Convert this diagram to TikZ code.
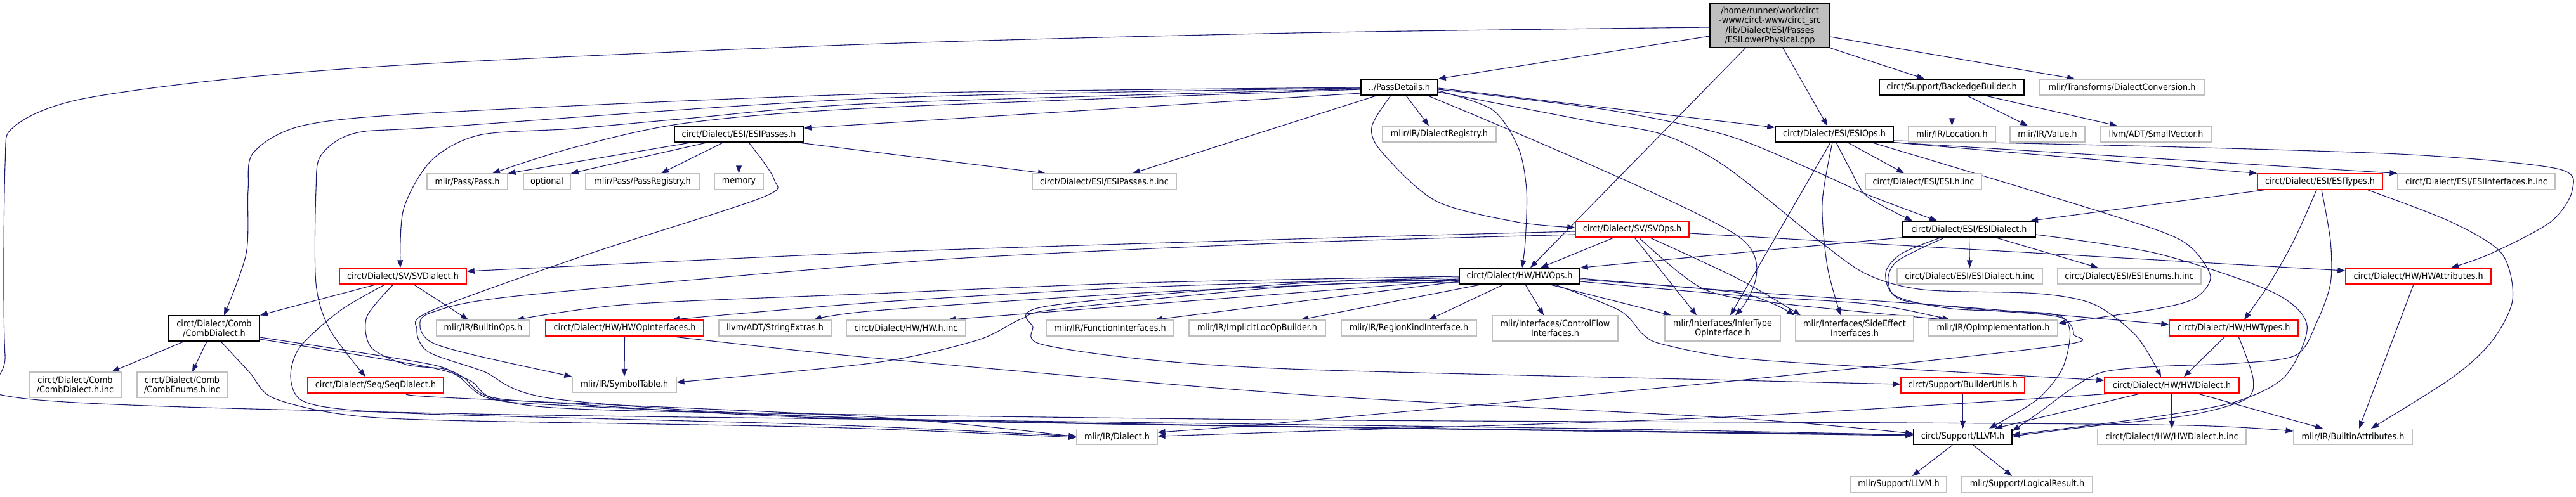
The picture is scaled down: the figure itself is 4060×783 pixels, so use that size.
\documentclass[tikz,border=0pt]{standalone}
\usepackage{fontspec}
\setmainfont{DejaVu Sans Condensed}
\usetikzlibrary{arrows.meta,backgrounds}
\definecolor{edgeblue}{RGB}{25,25,112}
\definecolor{grey75}{RGB}{191,191,191}
\newcommand\depfont{\fontsize{7.1pt}{7.6pt}\selectfont}

\begin{document}
\begin{tikzpicture}[x=0.5pt,y=-0.5pt,
    hdr/.style={draw=black, line width=0.7pt, fill=white, inner sep=0pt,
      minimum height=12.5pt, font=\depfont},
    exthdr/.style={hdr, draw=grey75, line width=0.6pt},
    redhdr/.style={hdr, draw=red},
    srchdr/.style={hdr, fill=grey75, minimum height=34.5pt, align=center},
    two/.style={minimum height=20pt, align=center},
    wd/.style={minimum width=#1*0.5pt},
    dep/.style={draw=edgeblue, line width=0.55pt, -{Triangle[length=6pt,width=4.4pt]}}]
\useasboundingbox (0,0) rectangle (4060,783);

% the file and its headers, row by row
\node[srchdr, wd=189] (root) at (2789.5,40.5) {/home/runner/work/circt\\-www/circt-www/circt\_src\\/lib/Dialect/ESI/Passes\\/ESILowerPhysical.cpp};
\node[hdr, wd=121] (passdet) at (2205.5,137.5) {../PassDetails.h};
\node[hdr, wd=228] (backedge) at (3076,137.5) {circt/Support/BackedgeBuilder.h};
\node[exthdr, wd=259] (dconv) at (3344.5,137.5) {mlir/Transforms/DialectConversion.h};
\node[hdr, wd=203] (esipasses) at (1164.5,211.5) {circt/Dialect/ESI/ESIPasses.h};
\node[exthdr, wd=179] (dreg) at (2268.5,211.5) {mlir/IR/DialectRegistry.h};
\node[hdr, wd=186] (esiops) at (2891,211.5) {circt/Dialect/ESI/ESIOps.h};
\node[exthdr, wd=137] (location) at (3076.5,211.5) {mlir/IR/Location.h};
\node[exthdr, wd=118] (value) at (3227,211.5) {mlir/IR/Value.h};
\node[exthdr, wd=174] (smallvec) at (3398,211.5) {llvm/ADT/SmallVector.h};
\node[exthdr, wd=127] (pass) at (736.5,286.5) {mlir/Pass/Pass.h};
\node[exthdr, wd=74] (optional) at (862,286.5) {optional};
\node[exthdr, wd=179] (passreg) at (1012.5,286.5) {mlir/Pass/PassRegistry.h};
\node[exthdr, wd=77] (memory) at (1164.5,286.5) {memory};
\node[exthdr, wd=227] (passesinc) at (1740.5,286.5) {circt/Dialect/ESI/ESIPasses.h.inc};
\node[exthdr, wd=183] (esiinc) at (3031.5,286.5) {circt/Dialect/ESI/ESI.h.inc};
\node[redhdr, wd=197] (esitypes) at (3656.5,286.5) {circt/Dialect/ESI/ESITypes.h};
\node[exthdr, wd=248] (esiifinc) at (3903,286.5) {circt/Dialect/ESI/ESIInterfaces.h.inc};
\node[redhdr, wd=179] (svops) at (2572.5,361.5) {circt/Dialect/SV/SVOps.h};
\node[hdr, wd=209] (esidialect) at (3103.5,361.5) {circt/Dialect/ESI/ESIDialect.h};
\node[redhdr, wd=200] (svdialect) at (635,435.5) {circt/Dialect/SV/SVDialect.h};
\node[hdr, wd=190] (hwops) at (2395,435.5) {circt/Dialect/HW/HWOps.h};
\node[exthdr, wd=229] (esidinc) at (3104.5,435.5) {circt/Dialect/ESI/ESIDialect.h.inc};
\node[exthdr, wd=226] (esienums) at (3356,435.5) {circt/Dialect/ESI/ESIEnums.h.inc};
\node[redhdr, wd=229] (hwattr) at (3811.5,435.5) {circt/Dialect/HW/HWAttributes.h};
\node[hdr, two, wd=143] (comb) at (337.5,518) {circt/Dialect/Comb\\/CombDialect.h};
\node[exthdr, wd=147] (builtinops) at (761.5,517.5) {mlir/IR/BuiltinOps.h};
\node[redhdr, wd=249] (hwopif) at (984.5,517.5) {circt/Dialect/HW/HWOpInterfaces.h};
\node[exthdr, wd=177] (strext) at (1221.5,517.5) {llvm/ADT/StringExtras.h};
\node[exthdr, wd=188] (hwinc) at (1428,517.5) {circt/Dialect/HW/HW.h.inc};
\node[exthdr, wd=201] (funcif) at (1749.5,517.5) {mlir/IR/FunctionInterfaces.h};
\node[exthdr, wd=215] (implicit) at (1981.5,517.5) {mlir/IR/ImplicitLocOpBuilder.h};
\node[exthdr, wd=213] (regionkind) at (2220.5,517.5) {mlir/IR/RegionKindInterface.h};
\node[exthdr, two, wd=198] (cflow) at (2451,518) {mlir/Interfaces/ControlFlow\\Interfaces.h};
\node[exthdr, two, wd=182] (infer) at (2715,518) {mlir/Interfaces/InferType\\OpInterface.h};
\node[exthdr, two, wd=186] (sideeff) at (2923,518) {mlir/Interfaces/SideEffect\\Interfaces.h};
\node[exthdr, wd=203] (opimpl) at (3141.5,517.5) {mlir/IR/OpImplementation.h};
\node[redhdr, wd=203] (hwtypes) at (3520.5,517.5) {circt/Dialect/HW/HWTypes.h};
\node[exthdr, two, wd=145] (combinc) at (118.5,607) {circt/Dialect/Comb\\/CombDialect.h.inc};
\node[exthdr, two, wd=142] (combenums) at (287,607) {circt/Dialect/Comb\\/CombEnums.h.inc};
\node[redhdr, wd=214] (seq) at (592,607.5) {circt/Dialect/Seq/SeqDialect.h};
\node[exthdr, wd=164] (symtab) at (984,607) {mlir/IR/SymbolTable.h};
\node[redhdr, wd=195] (builderutils) at (3093.5,607.5) {circt/Support/BuilderUtils.h};
\node[redhdr, wd=212] (hwdialect) at (3423,607.5) {circt/Dialect/HW/HWDialect.h};
\node[exthdr, wd=127] (mdialect) at (1760.5,689) {mlir/IR/Dialect.h};
\node[hdr, wd=155] (cllvm) at (3093.5,689) {circt/Support/LLVM.h};
\node[exthdr, wd=234] (hwdinc) at (3423,689) {circt/Dialect/HW/HWDialect.h.inc};
\node[exthdr, wd=187] (battr) at (3708.5,689) {mlir/IR/BuiltinAttributes.h};
\node[exthdr, wd=151] (mllvm) at (2992.5,764) {mlir/Support/LLVM.h};
\node[exthdr, wd=206] (logical) at (3195,764) {mlir/Support/LogicalResult.h};

\begin{scope}[on background layer]
% includes of the source file
\draw[dep] (root.west |- 0,57) -- (passdet.north east);
\draw[dep] (root.south -| 2751,0) -- (hwops.north -| 2412,0);
\draw[dep] (root.south -| 2810,0) -- (esiops.north -| 2880,0);
\draw[dep] (root.south east) -- (backedge.north -| 3033,0);
\draw[dep] (root.east |- 0,58) -- (dconv.north -| 3270,0);
\draw[dep, smooth, tension=0.5] plot coordinates {(root.west |- 0,43) (2040,52) (1360,70) (680,100) (357,125) (120,158) (22,200) (8,260) (8,560) (33,628) (700,652) (1600,664) (2500,676) (cllvm.west |- 0,686)};
% ../PassDetails.h
\draw[dep] (passdet.west |- 0,147) -- (esipasses.east |- 0,202);
\draw[dep] (passdet.south -| 2170,0) -- (passesinc.north -| 1785,0);
\draw[dep, smooth] plot coordinates {(passdet.west |- 0,141) (1380,170) (1082,194) (903,233) (pass.north -| 776,0)};
\draw[dep, smooth] plot coordinates {(passdet.west |- 0,138) (1380,148) (700,177) (482,197) (400,240) (391,300) (388,400) (comb.north -| 353,0)};
\draw[dep, smooth] plot coordinates {(passdet.west |- 0,139) (1380,155) (700,200) (560,210) (506,245) (498,300) (498,447) (520,520) (seq.north -| 576,0)};
\draw[dep, smooth] plot coordinates {(passdet.west |- 0,140) (1380,163) (1082,187) (903,203) (756,213) (680,253) (636,330) (svdialect.north -| 631,0)};
\draw[dep] (passdet.south -| 2216,0) -- (dreg.north -| 2252,0);
\draw[dep, smooth] plot coordinates {(passdet.south -| 2192,0) (2162,200) (2178,240) (2263,317) (2390,350) (svops.west |- 0,359)};
\draw[dep, smooth] plot coordinates {(passdet.east |- 0,143) (2352,173) (2393,233) (2406,300) (2404,380) (hwops.north -| 2399,0)};
\draw[dep] (passdet.east |- 0,139) -- (esiops.west |- 0,201);
\draw[dep, smooth] plot coordinates {(passdet.east |- 0,141) (2531,173) (2720,213) (2854,267) (2943,307) (esidialect.north -| 3053,0)};
\draw[dep, smooth] plot coordinates {(passdet.east |- 0,145) (2500,190) (2620,212) (2720,263) (2867,380) (2943,433) (3032,457) (3211,463) (3300,480) (3367,530) (hwdialect.north -| 3406,0)};
\draw[dep, smooth] plot coordinates {(passdet.south -| 2250,0) (2740,373) (infer.north -| 2735,0)};
% circt/Dialect/ESI/ESIPasses.h
\draw[dep] (esipasses.south -| 1090,0) -- (pass.north east);
\draw[dep] (esipasses.south -| 1115,0) -- (optional.north east);
\draw[dep] (esipasses.south -| 1140,0) -- (passreg.north -| 1042,0);
\draw[dep] (esipasses.south -| memory.north) -- (memory.north);
\draw[dep] (esipasses.south -| 1256,0) -- (passesinc.north -| 1648,0);
\draw[dep, smooth] plot coordinates {(esipasses.south -| 1180,0) (1220,283) (1200,312) (930,400) (680,490) (657,520) (675,555) (760,585) (880,630) (1380,660) (2500,680) (cllvm.west |- 0,685)};
% circt/Dialect/SV/SVDialect.h
\draw[dep] (svdialect.south -| 593,0) -- (comb.north east);
\draw[dep] (svdialect.south -| 652,0) -- (builtinops.north -| 738,0);
\draw[dep, smooth] plot coordinates {(svdialect.south -| 607,0) (536,490) (473,547) (458,593) (473,630) (536,645) (700,654) (1300,670) (mdialect.west |- 0,688)};
\draw[dep, smooth] plot coordinates {(svdialect.south -| 620,0) (578,500) (585,548) (640,575) (700,582) (730,595) (769,625) (881,636) (1380,662) (2500,679) (cllvm.west |- 0,686)};
% circt/Dialect/Comb/CombDialect.h
\draw[dep] (comb.south -| 290,0) -- (combinc.north -| 176,0);
\draw[dep] (comb.south -| 326,0) -- (combenums.north -| 303,0);
\draw[dep, smooth] plot coordinates {(comb.south -| 348,0) (393,587) (429,627) (536,653) (700,663) (1300,674) (mdialect.west |- 0,690)};
\draw[dep, smooth] plot coordinates {(comb.east |- 0,532) (670,573) (720,592) (770,628) (900,640) (1500,664) (2500,680) (cllvm.west |- 0,687)};
\draw[dep, smooth] plot coordinates {(comb.east |- 0,535) (670,578) (740,600) (790,632) (1000,648) (2000,662) (3000,667) (3450,671) (battr.west |- 0,680)};
% circt/Dialect/Seq/SeqDialect.h
\draw[dep, smooth] plot coordinates {(seq.south -| 656,0) (700,627) (1380,658) (mdialect.west |- 0,689)};
% circt/Dialect/HW/HWOpInterfaces.h
\draw[dep] (hwopif.south) -- (symtab.north);
\draw[dep, smooth] plot coordinates {(hwopif.south -| 1059,0) (1380,565) (2060,623) (2740,660) (cllvm.west |- 0,684)};
% circt/Dialect/HW/HWOps.h
\draw[dep, smooth] plot coordinates {(hwops.west |- 0,436) (1800,446) (1380,463) (992,480) (builtinops.north -| 814,0)};
\draw[dep, smooth] plot coordinates {(hwops.west |- 0,438) (1800,453) (1380,477) (hwopif.north -| 1059,0)};
\draw[dep, smooth] plot coordinates {(hwops.west |- 0,440) (1800,462) (1380,490) (strext.north -| 1283,0)};
\draw[dep] (hwops.west |- 0,442) -- (hwinc.north -| 1494,0);
\draw[dep] (hwops.west |- 0,444) -- (funcif.north -| 1820,0);
\draw[dep] (hwops.south -| 2335,0) -- (implicit.north -| 2050,0);
\draw[dep] (hwops.south -| 2370,0) -- (regionkind.north -| 2252,0);
\draw[dep] (hwops.south -| 2404,0) -- (cflow.north -| 2433,0);
\draw[dep] (hwops.south -| 2442,0) -- (infer.north -| 2634,0);
\draw[dep, smooth] plot coordinates {(hwops.east |- 0,441) (2740,462) (sideeff.north -| 2828,0)};
\draw[dep, smooth] plot coordinates {(hwops.east |- 0,444) (2740,466) (2950,480) (opimpl.north -| 3073,0)};
\draw[dep, smooth] plot coordinates {(hwops.east |- 0,439) (2720,458) (3100,485) (hwtypes.west |- 0,512)};
\draw[dep, smooth] plot coordinates {(hwops.south -| 2450,0) (2553,490) (2589,527) (2620,543) (2740,565) (3000,582) (hwdialect.west |- 0,600)};
\draw[dep, smooth] plot coordinates {(hwops.west |- 0,443) (2060,446) (1650,483) (1628,517) (1641,543) (1806,567) (2060,583) (2740,600) (builderutils.west |- 0,606)};
\draw[dep, smooth] plot coordinates {(hwops.west |- 0,446) (2060,450) (1672,487) (1610,503) (1539,537) (1380,572) (symtab.east |- 0,603)};
% circt/Dialect/SV/SVOps.h
\draw[dep] (svops.south -| 2544,0) -- (hwops.north -| 2428,0);
\draw[dep] (svops.south -| 2576,0) -- (infer.north -| 2674,0);
\draw[dep, smooth] plot coordinates {(svops.south -| 2583,0) (2683,455) (2800,478) (opimpl.north -| 3068,0)};
\draw[dep, smooth] plot coordinates {(svops.south -| 2600,0) (2740,440) (sideeff.north -| 2838,0)};
\draw[dep, smooth] plot coordinates {(svops.west |- 0,365) (2040,377) (1380,398) (svdialect.east |- 0,428)};
\draw[dep, smooth] plot coordinates {(svops.west |- 0,370) (2060,382) (1650,400) (1380,417) (814,467) (680,493) (662,515) (680,540) (747,560) (symtab.west |- 0,594)};
\draw[dep] (svops.east |- 0,368) -- (hwattr.west |- 0,427);
% circt/Dialect/ESI/ESIOps.h
\draw[dep] (esiops.south -| 2912,0) -- (esiinc.north -| 3001,0);
\draw[dep, smooth] plot coordinates {(esiops.south -| 2894,0) (2916,267) (2943,310) (esidialect.north -| 3014,0)};
\draw[dep] (esiops.south east) -- (esitypes.north west);
\draw[dep] (esiops.south east) -- (esiifinc.north west);
\draw[dep, smooth] plot coordinates {(esiops.east |- 0,222) (3400,231) (3800,244) (4030,266) (4054,300) (4020,350) (3926,400) (hwattr.north -| 3863,0)};
\draw[dep] (esiops.south -| 2885,0) -- (infer.north -| 2727,0);
\draw[dep, smooth] plot coordinates {(esiops.south -| 2888,0) (2872,320) (2880,420) (sideeff.north -| 2901,0)};
\draw[dep, smooth] plot coordinates {(esiops.south -| 2950,0) (3200,300) (3400,363) (3455,392) (3484,437) (3460,470) (3400,487) (opimpl.east |- 0,510)};
% circt/Dialect/ESI/ESIDialect.h
\draw[dep] (esidialect.south) -- (esidinc.north);
\draw[dep] (esidialect.south -| 3145,0) -- (esienums.north -| 3307,0);
\draw[dep] (esidialect.south west) -- (hwops.north east);
\draw[dep, smooth] plot coordinates {(esidialect.south -| 3059,0) (2997,400) (2972,430) (2988,467) (3077,487) (3233,495) (3262,520) (3251,580) (3211,630) (cllvm.north -| 3135,0)};
\draw[dep, smooth] plot coordinates {(esidialect.south -| 3065,0) (2990,412) (2976,445) (3000,474) (3130,489) (3245,500) (3268,527) (3240,546) (2720,602) (2040,665) (mdialect.east |- 0,682)};
\draw[dep, smooth] plot coordinates {(esidialect.east |- 0,370) (3400,400) (3580,460) (3636,513) (3602,593) (3526,633) (3400,657) (cllvm.east |- 0,686)};
% circt/Dialect/ESI/ESITypes.h
\draw[dep] (esitypes.south -| 3568,0) -- (esidialect.north -| 3200,0);
\draw[dep, smooth] plot coordinates {(esitypes.south -| 3651,0) (3615,380) (3577,447) (hwtypes.north -| 3537,0)};
\draw[dep, smooth] plot coordinates {(esitypes.south -| 3659,0) (3673,380) (3673,447) (3652,507) (3619,560) (3526,573) (3400,578) (3314,587) (3265,613) (3215,650) (cllvm.east |- 0,680)};
\draw[dep, smooth] plot coordinates {(esitypes.south -| 3732,0) (3863,350) (3943,400) (3960,473) (3926,540) (3863,597) (battr.north -| 3737,0)};
% circt/Dialect/HW/HWAttributes.h
\draw[dep] (hwattr.south -| 3804,0) -- (battr.north -| 3718,0);
% circt/Dialect/HW/HWTypes.h
\draw[dep] (hwtypes.south -| 3507,0) -- (hwdialect.north -| 3442,0);
\draw[dep, smooth] plot coordinates {(hwtypes.south -| 3528,0) (3551,597) (3539,630) (3450,655) (3300,672) (cllvm.east |- 0,688)};
% circt/Dialect/HW/HWDialect.h
\draw[dep] (hwdialect.south) -- (hwdinc.north);
\draw[dep] (hwdialect.south -| 3463,0) -- (battr.north -| 3661,0);
\draw[dep] (hwdialect.south -| 3374,0) -- (cllvm.north -| 3144,0);
\draw[dep, smooth] plot coordinates {(hwdialect.south -| 3332,0) (2720,658) (2040,681) (mdialect.east |- 0,688)};
% circt/Support/BuilderUtils.h and circt/Support/LLVM.h
\draw[dep] (builderutils.south) -- (cllvm.north);
\draw[dep] (cllvm.south -| 3077,0) -- (mllvm.north -| 3014,0);
\draw[dep] (cllvm.south -| 3110,0) -- (logical.north -| 3171,0);
% circt/Support/BackedgeBuilder.h
\draw[dep] (backedge.south -| location.north) -- (location.north);
\draw[dep] (backedge.south -| 3100,0) -- (value.north -| 3196,0);
\draw[dep] (backedge.south -| 3128,0) -- (smallvec.north -| 3337,0);
\end{scope}
\end{tikzpicture}
\end{document}
